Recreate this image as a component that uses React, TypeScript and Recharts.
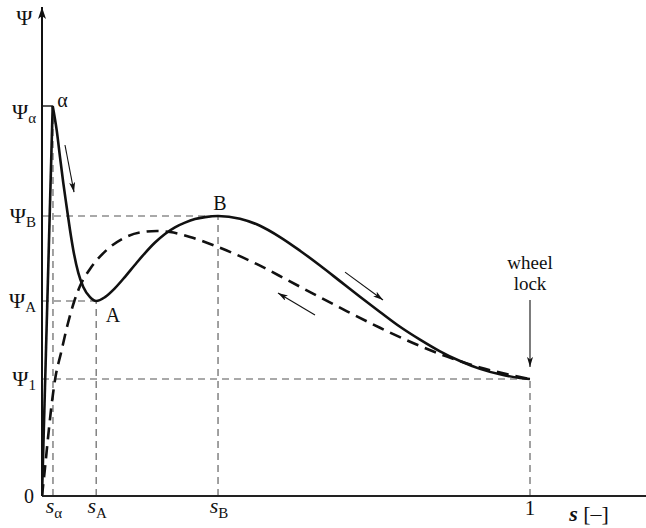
import React from 'react';
import { LineChart, Line, XAxis, YAxis, ReferenceLine, ReferenceDot } from 'recharts';

// Characteristic slip values (s) and adhesion levels (psi, normalised to psi_alpha = 1)
const S_ALPHA = 0.0225;
const S_A = 0.111;
const S_B = 0.3607;
const S_ONE = 1;
const PSI_ALPHA = 1;
const PSI_B = 0.718;
const PSI_A = 0.5;
const PSI_1 = 0.3;

// Braking branch (solid): straight rise to the peak alpha, then the curve
const riseS = [0, 0.0219];
const risePsi = [0, 1.0];
const solidS = [0.0219, 0.0301, 0.0369, 0.0436, 0.0506, 0.0574, 0.0641, 0.0744, 0.0846, 0.0984, 0.111, 0.1291, 0.1496, 0.1701, 0.1906, 0.2111, 0.2316, 0.252, 0.2725, 0.293, 0.3135, 0.334, 0.3607, 0.4057, 0.4467, 0.4877, 0.5287, 0.5697, 0.6107, 0.6516, 0.6926, 0.7336, 0.7746, 0.8156, 0.8566, 0.8975, 0.9385, 0.9795, 1];
const solidPsi = [1.0, 0.938, 0.869, 0.803, 0.741, 0.682, 0.631, 0.572, 0.536, 0.51, 0.5, 0.51, 0.533, 0.562, 0.593, 0.623, 0.65, 0.672, 0.689, 0.701, 0.71, 0.715, 0.718, 0.711, 0.693, 0.664, 0.629, 0.591, 0.551, 0.511, 0.472, 0.434, 0.401, 0.371, 0.346, 0.326, 0.312, 0.3026, 0.3];

// Release branch (dashed)
const dashedS = [0, 0.0061, 0.0123, 0.0184, 0.0273, 0.0389, 0.0533, 0.0656, 0.0779, 0.0984, 0.1326, 0.166, 0.2008, 0.2357, 0.2623, 0.3033, 0.3607, 0.4406, 0.502, 0.5553, 0.625, 0.6926, 0.7602, 0.8299, 0.8975, 0.9652, 1];
const dashedPsi = [0, 0.0718, 0.1487, 0.2205, 0.3026, 0.3667, 0.4436, 0.4974, 0.5385, 0.5821, 0.6308, 0.6603, 0.6756, 0.6795, 0.6769, 0.6641, 0.6385, 0.5944, 0.5544, 0.519, 0.4736, 0.4313, 0.3923, 0.3574, 0.3295, 0.3092, 0.3];

// Tick values and labels
const xTicks = [S_ALPHA, S_A, S_B, S_ONE];
const xTickLabels = [
  { main: 's', sub: 'α' },
  { main: 's', sub: 'A' },
  { main: 's', sub: 'B' },
  { main: '1', sub: '' },
];
const yTicks = [0, PSI_1, PSI_A, PSI_B, PSI_ALPHA];
const yTickLabels = [
  { main: '0', sub: '' },
  { main: 'Ψ', sub: '1' },
  { main: 'Ψ', sub: 'A' },
  { main: 'Ψ', sub: 'B' },
  { main: 'Ψ', sub: 'α' },
];

// Arrows (data coordinates)
const arrowFromS = [0.0471, 0.6209, 0.5594, 1];
const arrowFromPsi = [0.9, 0.574, 0.464, 0.5026];
const arrowToS = [0.0656, 0.6988, 0.4836, 1];
const arrowToPsi = [0.779, 0.5026, 0.5205, 0.331];

// Text annotations
const noteText = ['α', 'A', 'B', 'wheel', 'lock', 'Ψ'];
const noteS = [0.0420, 0.1455, 0.3648, 1, 1, -0.036];
const notePsi = [1.015, 0.464, 0.751, 0.6, 0.546, 1.227];
const noteSize = [20, 20, 20, 19, 19, 22];

const riseData = riseS.map((s, i) => ({ s, psi: risePsi[i] }));
const solidData = solidS.map((s, i) => ({ s, psi: solidPsi[i] }));
const dashedData = dashedS.map((s, i) => ({ s, psi: dashedPsi[i] }));

const FONT = '"Liberation Serif", "Times New Roman", serif';
const INK = '#111';
const GUIDE = '#555';

const X_MAX = 604 / 488;
const Y_MAX = 489 / 390;

const XTick = (props: any) => {
  const { x, y, payload } = props;
  const i = xTicks.indexOf(payload.value);
  const lab = xTickLabels[i] || { main: '', sub: '' };
  if (!lab.sub) {
    return (
      <text x={x} y={y + 19} textAnchor="middle" fontFamily={FONT} fontSize={21} fill={INK}>
        {lab.main}
      </text>
    );
  }
  return (
    <text x={x + 1} y={y + 17} textAnchor="middle" fontFamily={FONT} fontSize={22} fill={INK}>
      <tspan fontStyle="italic">{lab.main}</tspan>
      <tspan fontSize={15} dy={5}>{lab.sub}</tspan>
    </text>
  );
};

const YTick = (props: any) => {
  const { x, y, payload } = props;
  const i = yTicks.indexOf(payload.value);
  const lab = yTickLabels[i] || { main: '', sub: '' };
  const shift = lab.sub === 'α' ? 6 : 0;
  if (!lab.sub) {
    return (
      <text x={x - 2} y={y + 7} textAnchor="end" fontFamily={FONT} fontSize={20} fill={INK}>
        {lab.main}
      </text>
    );
  }
  return (
    <text x={x} y={y + 7 + shift} textAnchor="end" fontFamily={FONT} fontSize={22} fill={INK}>
      <tspan>{lab.main}</tspan>
      <tspan fontSize={15} dy={4}>{lab.sub}</tspan>
    </text>
  );
};

export default function App() {
  const guideSegments = [
    { a: { x: S_ALPHA, y: 0 }, b: { x: S_ALPHA, y: PSI_ALPHA } },
    { a: { x: 0, y: PSI_B }, b: { x: S_B, y: PSI_B } },
    { a: { x: S_B, y: 0 }, b: { x: S_B, y: PSI_B } },
    { a: { x: 0, y: PSI_A }, b: { x: S_A, y: PSI_A } },
    { a: { x: S_A, y: 0 }, b: { x: S_A, y: PSI_A } },
    { a: { x: 0, y: PSI_1 }, b: { x: S_ONE, y: PSI_1 } },
    { a: { x: S_ONE, y: 0 }, b: { x: S_ONE, y: PSI_1 } },
  ];

  return (
    <div style={{ position: 'absolute', left: 0, top: 0, width: 646, height: 528, background: '#fff' }}>
      <LineChart width={646} height={528} margin={{ top: 7, right: 0, bottom: 0, left: 0 }}>
        <defs>
          <marker id="arrowHead" viewBox="0 0 10 6" refX="10" refY="3" markerWidth="10" markerHeight="6" markerUnits="userSpaceOnUse" orient="auto">
            <path d="M0,0 L10,3 L0,6 L2.5,3 Z" fill={INK} />
          </marker>
          <marker id="axisHead" viewBox="0 0 12 8" refX="12" refY="4" markerWidth="12" markerHeight="8" markerUnits="userSpaceOnUse" orient="auto-start-reverse">
            <path d="M0,0 L12,4 L0,8 L3,4 Z" fill={INK} />
          </marker>
        </defs>
        <XAxis
          dataKey="s"
          type="number"
          domain={[0, X_MAX]}
          ticks={xTicks}
          interval={0}
          tick={<XTick />}
          tickLine={false}
          tickSize={0}
          tickMargin={0}
          height={32}
          allowDataOverflow
          axisLine={{ stroke: '#222', strokeWidth: 1.8 }}
        />
        <YAxis
          dataKey="psi"
          type="number"
          domain={[0, Y_MAX]}
          ticks={yTicks}
          interval={0}
          tick={<YTick />}
          tickLine={false}
          tickSize={0}
          tickMargin={6}
          width={42}
          allowDataOverflow
          axisLine={{ stroke: INK, strokeWidth: 2, markerStart: 'url(#axisHead)' }}
        />
        <ReferenceLine
          segment={[{ x: 0, y: PSI_ALPHA }, { x: S_ALPHA, y: PSI_ALPHA }]}
          stroke={INK}
          strokeWidth={1.4}
        />
        {guideSegments.map((g, i) => (
          <ReferenceLine
            key={'g' + i}
            segment={[g.a, g.b]}
            stroke={GUIDE}
            strokeWidth={1.1}
            strokeDasharray="7 5"
          />
        ))}
        {arrowFromS.map((s, i) => (
          <ReferenceLine
            key={'a' + i}
            segment={[{ x: s, y: arrowFromPsi[i] }, { x: arrowToS[i], y: arrowToPsi[i] }]}
            stroke={INK}
            strokeWidth={1.1}
            markerEnd="url(#arrowHead)"
          />
        ))}
        <Line
          data={dashedData}
          dataKey="psi"
          type="monotone"
          stroke={INK}
          strokeWidth={2.6}
          strokeDasharray="12 7"
          dot={false}
          activeDot={false}
          isAnimationActive={false}
        />
        <Line
          data={riseData}
          dataKey="psi"
          type="linear"
          stroke={INK}
          strokeWidth={2.6}
          dot={false}
          activeDot={false}
          isAnimationActive={false}
        />
        <Line
          data={solidData}
          dataKey="psi"
          type="monotone"
          stroke={INK}
          strokeWidth={2.6}
          dot={false}
          activeDot={false}
          isAnimationActive={false}
        />
        {noteText.map((t, i) => (
          <ReferenceDot
            key={'n' + i}
            x={noteS[i]}
            y={notePsi[i]}
            r={0}
            ifOverflow="visible"
            shape={(p: any) => (
              <text
                x={p.cx}
                y={p.cy}
                textAnchor="middle"
                dominantBaseline="central"
                fontFamily={FONT}
                fontSize={noteSize[i]}
                fill={INK}
              >
                {t}
              </text>
            )}
          />
        ))}
        <ReferenceDot
          x={1.121}
          y={-0.0436}
          r={0}
          ifOverflow="visible"
          shape={(p: any) => (
            <text x={p.cx} y={p.cy} textAnchor="middle" dominantBaseline="central" fontFamily={FONT} fontSize={22} fill={INK}>
              <tspan fontStyle="italic" fontWeight="bold">s</tspan>
              <tspan> [–]</tspan>
            </text>
          )}
        />
      </LineChart>
    </div>
  );
}
